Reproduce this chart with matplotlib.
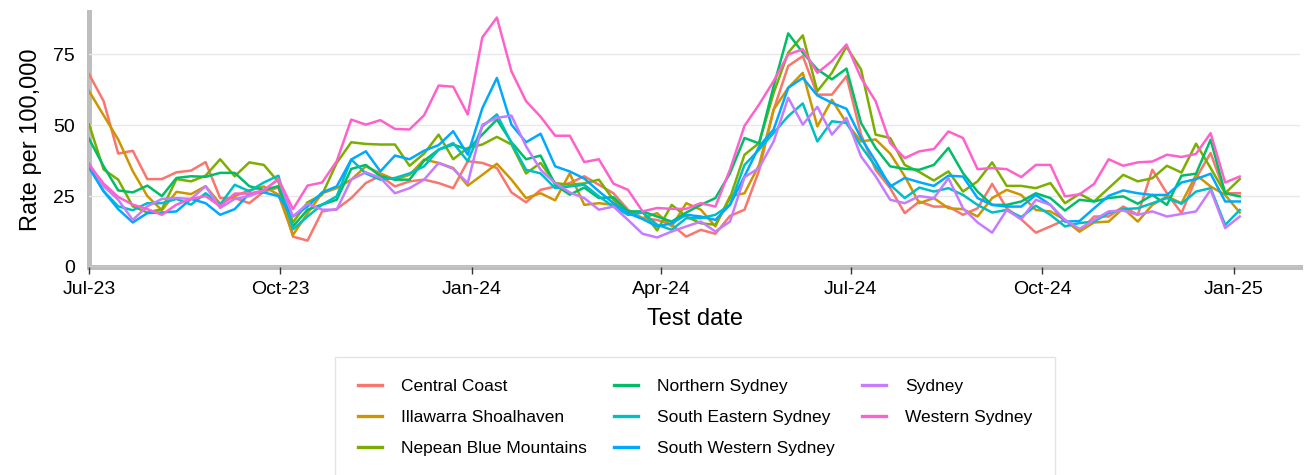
import numpy as np
import pandas as pd
import matplotlib
matplotlib.use('Agg')
import matplotlib.pyplot as plt
import matplotlib.dates as mdates

plt.rcParams['font.family'] = ['Liberation Sans', 'DejaVu Sans']

# weekly test dates
dates = pd.date_range('2023-07-01', periods=80, freq='7D')

regions = ['Central Coast', 'Illawarra Shoalhaven', 'Nepean Blue Mountains',
           'Northern Sydney', 'South Eastern Sydney', 'South Western Sydney',
           'Sydney', 'Western Sydney']
colors = ['#F8766D', '#CD9600', '#7CAE00', '#00BE67',
          '#00BFC4', '#00A9FF', '#C77CFF', '#FF61CC']

central_coast = [68, 58.5, 40, 41, 31, 31, 33.4, 34, 37, 24.3,
                 24.3, 22.5, 26.6, 28, 10.7, 9.3, 19.6, 20.4, 24.3, 29.6,
                 32.2, 28.4, 30.2, 30.8, 29.6, 27.8, 37.3, 36.7, 34.9, 26.3,
                 22.8, 27.2, 28.4, 29.6, 32, 29, 26, 20.2, 17.2, 16.6,
                 14.9, 10.7, 13.1, 11.7, 18, 20.2, 34, 55.5, 70.9, 74.4,
                 60.8, 60.8, 67.3, 46.7, 34.3, 27.8, 19, 23.1, 21.3, 21.3,
                 18.4, 20.7, 29.3, 20.7, 16.8, 12.1, 14.3, 16.6, 12.5, 17.8,
                 17.8, 21.3, 18.4, 34.3, 26, 19, 31.3, 40.2, 26, 26]
illawarra = [62, 53.5, 45, 33.8, 25, 20, 26.5, 25.7, 28.5, 22.3,
             25, 27, 28.4, 25.5, 11.3, 19, 26, 27.8, 30.8, 35.5,
             33, 30.8, 32.5, 37.9, 36.7, 34.9, 28.7, 32.5, 36.4, 30.8,
             24.3, 26, 23.5, 33, 21.9, 22.5, 21.9, 19.6, 17.2, 19,
             14.3, 22.5, 20.2, 14.3, 24.9, 26, 36, 55.5, 63.2, 68.5,
             49.6, 59, 50.8, 44.3, 45, 40, 32, 22.5, 24.3, 20.7,
             20.4, 17.8, 24.3, 27.2, 25.4, 20.1, 19.6, 16.6, 12.5, 15.7,
             16, 20.7, 16, 21.9, 24.9, 22.5, 32.5, 28.4, 25.4, 19.2]
nepean = [50.3, 34.4, 30.8, 21.4, 19.2, 20.4, 31, 30.2, 32.2, 38,
          32, 36.9, 36, 30, 15.7, 22.8, 25.5, 36.7, 44, 43.4,
          43.2, 43.2, 35.7, 40, 46.7, 38, 42, 43.2, 45.9, 43.2,
          33, 36.7, 29.6, 29, 29.5, 30.8, 23.7, 18.4, 19.6, 12.9,
          21.9, 17.8, 15.4, 14.9, 24.3, 39.6, 43.7, 61.4, 75.6, 81.7,
          62, 68.5, 77.7, 69.7, 46.7, 45.5, 36, 33.5, 30.5, 33.7,
          26.6, 30.2, 36.9, 28.6, 28.6, 27.8, 29.6, 22.5, 25.8, 23.1,
          27.8, 32.5, 30.2, 31.3, 35.7, 33.3, 43.5, 34.9, 26, 31]
northern = [45.2, 35.5, 27, 26.3, 28.7, 25, 31.4, 32, 31.8, 33.2,
            33.2, 28.5, 27.2, 28.5, 14.3, 20.2, 22, 23.7, 34.6, 36,
            32, 30.8, 30.8, 37.5, 41.4, 43.2, 41.4, 46.7, 52, 44,
            38, 39.3, 29, 25.5, 28, 24.3, 24.6, 19.6, 19.6, 17.8,
            16, 19.2, 21.9, 24.3, 33, 45.5, 43.6, 63.8, 82.4, 75.6,
            69.7, 66.2, 70, 50.8, 42, 35.5, 34.6, 34.3, 36, 42,
            33.1, 26.6, 21.9, 21.9, 23.1, 26, 24.3, 19.9, 23.7, 23.1,
            24.3, 24.9, 22.3, 25.4, 21.9, 32.2, 32.9, 44.9, 26, 24.9]
south_eastern = [35.5, 26.7, 21.4, 20, 22.5, 22.5, 24, 22, 26, 22,
                 29, 26.7, 29.8, 32.2, 13.3, 17.8, 22, 24.9, 37.9, 33,
                 30.8, 31.4, 33, 35.5, 41.4, 43.7, 37.3, 49.6, 53.8, 43.7,
                 34.3, 33, 27.8, 28.4, 29, 24.9, 21.3, 18.4, 19.2, 14.9,
                 13.1, 17.2, 17.2, 18.4, 21.9, 36, 41.4, 47.3, 53.2, 57.7,
                 44.3, 51.4, 50.8, 42.6, 35.5, 29, 24.3, 28, 26.6, 27.8,
                 25.4, 21.9, 19.2, 20.1, 17.6, 21.6, 18.4, 14.3, 15.5, 16,
                 19, 20.4, 20.7, 22.5, 24.3, 22.3, 26.6, 27.8, 14.8, 20.1]
south_western = [35, 26.7, 20.4, 15.7, 19, 19.2, 19.6, 24, 22.5, 18.4,
                 20.4, 25.9, 26.3, 25, 17.8, 21.3, 26.3, 28.4, 37.9, 40.8,
                 33.7, 39.3, 38, 41, 43, 47.9, 39.6, 56, 66.7, 50.2,
                 44, 47, 35.5, 33.7, 31.2, 26.7, 22.5, 19, 16.9, 14.3,
                 15.4, 18.4, 17.8, 16.6, 21.9, 32, 42.5, 48.5, 63.2, 66.7,
                 60.5, 57.9, 55.8, 45.5, 37.3, 28.4, 31.4, 29.9, 28.6, 32.2,
                 31.9, 24.3, 21.9, 21.3, 21.3, 25.4, 21.9, 16, 16.2, 20.7,
                 25.1, 27, 26, 25.4, 25.4, 29.8, 31, 32.9, 23.1, 23.1]
sydney = [36.5, 28.5, 23.7, 16.6, 21.4, 24, 24.3, 24, 28.5, 20.8,
          24, 25, 27, 31, 17.8, 22.3, 20.2, 20.2, 30.8, 33.4,
          31.4, 26, 27.8, 30.8, 36.7, 34.6, 29.6, 50.2, 52.6, 53.4,
          42.6, 34.3, 29.6, 26.3, 24.3, 20.2, 21.3, 16.6, 11.7, 10.4,
          12.5, 14.3, 16, 12.5, 16, 31.7, 34.9, 44.3, 59.7, 50.2,
          56.5, 46.7, 52.6, 39, 32, 23.7, 22.5, 25, 24.3, 31.3,
          20.7, 15.7, 12.1, 20.1, 16.8, 23.7, 21.9, 16.6, 13.4, 16.6,
          19.6, 19.9, 18.4, 19.6, 17.8, 18.7, 19.6, 27.2, 13.7, 17.8]
western = [36, 29.4, 24.7, 22, 20.4, 18.4, 22, 24, 25, 21.4,
           25.9, 25.9, 27, 31, 20.4, 28.7, 29.8, 37.3, 52, 50.2,
           51.8, 48.7, 48.5, 53.5, 64, 63.6, 53.8, 81, 88, 69,
           58.5, 53, 46.3, 46.3, 37, 38, 29.4, 27.2, 19.6, 20.8,
           20.5, 20.5, 22.5, 21.3, 34.3, 49.8, 57.3, 65.6, 75, 76.8,
           68.5, 72.6, 78.5, 66.7, 58.5, 43.7, 38.4, 40.8, 41.6, 47.8,
           45.5, 34.5, 34.9, 34.5, 31.7, 36, 36, 24.9, 25.6, 29.3,
           38, 35.7, 36.9, 37.2, 39.6, 38.8, 39.9, 47.2, 29.8, 31.9]

series = [central_coast, illawarra, nepean, northern,
          south_eastern, south_western, sydney, western]

fig = plt.figure(figsize=(13.04, 4.75), dpi=100)
ax = fig.add_axes([0.0683, 0.438, 0.9287, 0.537])

for name, vals, c in zip(regions, series, colors):
    ax.plot(dates, vals, color=c, lw=1.8, label=name)

ax.set_xlim(pd.Timestamp('2023-07-01'), pd.Timestamp('2025-02-02'))
ax.set_ylim(0, 90)
ax.set_yticks([0, 25, 50, 75])
ax.xaxis.set_major_locator(mdates.MonthLocator(bymonth=[1, 4, 7, 10]))
ax.xaxis.set_major_formatter(mdates.DateFormatter('%b-%y'))

ax.grid(axis='y', color='#E8E8E8', lw=1)
ax.set_axisbelow(True)
for s in ['top', 'right']:
    ax.spines[s].set_visible(False)
for s in ['left', 'bottom']:
    ax.spines[s].set_color('#BEBEBE')
    ax.spines[s].set_linewidth(3.6)
    ax.spines[s].set_zorder(0.5)

ax.tick_params(axis='x', length=5, width=1, color='#333333', labelsize=14, pad=5)
ax.tick_params(axis='y', length=0, labelsize=14, pad=10)

ax.set_xlabel('Test date', fontsize=17, labelpad=7)
ax.set_ylabel('Rate per 100,000', fontsize=17, labelpad=8)

leg = fig.legend(loc='upper center', bbox_to_anchor=(0.533, 0.249), ncol=3,
                 fontsize=12.5, frameon=True, fancybox=False, edgecolor='#DDDDDD',
                 handlelength=1.4, handletextpad=1.1, columnspacing=1.55,
                 labelspacing=0.9, borderpad=1.3, borderaxespad=0)
leg.get_frame().set_linewidth(1)
for h in leg.get_lines():
    h.set_linewidth(2.4)

fig.savefig('out.png', dpi=100)
